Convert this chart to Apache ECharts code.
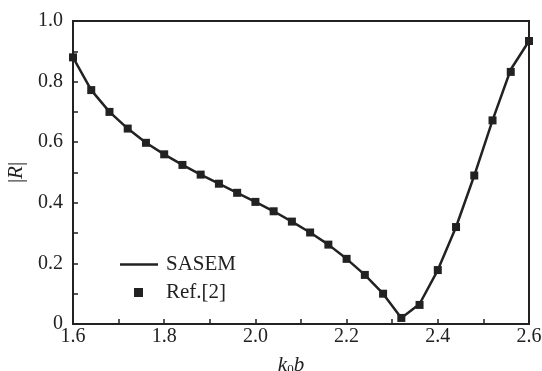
<!DOCTYPE html>
<html>
<head>
<meta charset="utf-8">
<script src="https://cdn.jsdelivr.net/npm/echarts@6/dist/echarts.min.js"></script>
<style>
  html, body { margin: 0; padding: 0; background: #fff; }
  #chart { width: 542px; height: 371px; }
</style>
</head>
<body>
<div id="chart"></div>
<script>
// k0b sample points
const kb = [1.60, 1.64, 1.68, 1.72, 1.76, 1.80, 1.84, 1.88, 1.92, 1.96, 2.00, 2.04, 2.08,
  2.12, 2.16, 2.20, 2.24, 2.28, 2.32, 2.36, 2.40, 2.44, 2.48, 2.52, 2.56, 2.60];
// |R| from SASEM (line)
const sasem = [0.880, 0.772, 0.700, 0.645, 0.598, 0.560, 0.525, 0.493, 0.463, 0.433, 0.403, 0.372, 0.338,
  0.302, 0.262, 0.215, 0.162, 0.100, 0.020, 0.066, 0.178, 0.320, 0.490, 0.672, 0.840, 0.934];
// |R| from Ref.[2] (markers)
const ref2 = [0.880, 0.772, 0.700, 0.645, 0.598, 0.560, 0.525, 0.493, 0.463, 0.433, 0.403, 0.372, 0.338,
  0.302, 0.262, 0.215, 0.162, 0.100, 0.020, 0.063, 0.178, 0.320, 0.490, 0.672, 0.832, 0.934];

const ink = '#222';
const font = 'Liberation Serif';

const chart = echarts.init(document.getElementById('chart'));

const axisCommon = {
  axisLine: { show: true, lineStyle: { color: ink, width: 2 } },
  axisTick: { show: true, inside: true, length: 5, lineStyle: { color: ink, width: 1.5 } },
  minorTick: { show: true, splitNumber: 2, length: 5, lineStyle: { color: ink, width: 1.5 } },
  splitLine: { show: false },
  axisLabel: { color: ink, fontFamily: font, fontSize: 20 }
};

chart.setOption({
  backgroundColor: '#fff',
  animation: false,
  grid: {
    left: 73, right: 13, top: 21, bottom: 47, show: true, borderColor: ink, borderWidth: 2,
    containLabel: false, outerBoundsMode: 'none'
  },
  legend: [
    {
      data: [{ name: 'SASEM', icon: 'rect' }], left: 120, top: 254, padding: 0,
      itemWidth: 38, itemHeight: 2.5,
      textStyle: { color: ink, fontFamily: font, fontSize: 21, padding: [0, 0, 0, 3] }
    },
    {
      data: [{ name: 'Ref.[2]', icon: 'rect' }], left: 134, top: 282, padding: 0,
      itemWidth: 9, itemHeight: 9,
      textStyle: { color: ink, fontFamily: font, fontSize: 21, padding: [0, 0, 0, 18] }
    }
  ],
  xAxis: Object.assign({}, axisCommon, {
    type: 'value', min: 1.6, max: 2.6, interval: 0.2,
    axisLabel: Object.assign({}, axisCommon.axisLabel, {
      margin: 3, formatter: v => v.toFixed(1)
    }),
    name: '{i|k}{s|0}{i|b}', nameLocation: 'middle', nameGap: 31,
    nameTextStyle: {
      padding: [0, 20, 0, 0],
      rich: {
        i: { fontFamily: font, fontStyle: 'italic', fontSize: 21, color: ink },
        s: { fontFamily: font, fontSize: 13, color: ink, verticalAlign: 'bottom', padding: [8, 0, 0, 0] }
      }
    }
  }),
  yAxis: Object.assign({}, axisCommon, {
    type: 'value', min: 0, max: 1.0, interval: 0.2,
    axisLabel: Object.assign({}, axisCommon.axisLabel, {
      margin: 10, formatter: v => (v === 0 ? '0' : v.toFixed(1))
    }),
    name: '|{i|R}|', nameLocation: 'middle', nameGap: 44, nameRotate: 90,
    nameTextStyle: {
      color: ink, fontFamily: font, fontSize: 21,
      rich: { i: { fontFamily: font, fontStyle: 'italic', fontSize: 21, color: ink } }
    }
  }),
  series: [
    {
      name: 'SASEM', type: 'line', symbol: 'none', z: 2,
      lineStyle: { color: ink, width: 2.5 }, itemStyle: { color: ink },
      data: kb.map((x, i) => [x, sasem[i]])
    },
    {
      name: 'Ref.[2]', type: 'scatter', symbol: 'rect', symbolSize: 8, z: 3,
      itemStyle: { color: ink, opacity: 1 },
      data: kb.map((x, i) => [x, ref2[i]])
    }
  ]
});
</script>
</body>
</html>
